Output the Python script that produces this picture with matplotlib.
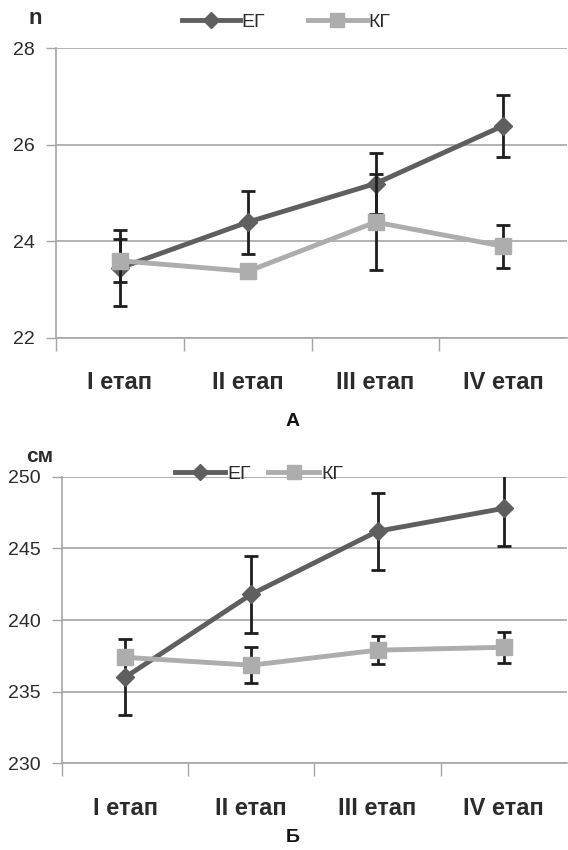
import matplotlib.pyplot as plt
from matplotlib.lines import Line2D

plt.rcParams['font.family'] = ['Liberation Sans Narrow', 'Liberation Sans', 'DejaVu Sans']

stages = ['I етап', 'II етап', 'III етап', 'IV етап']

# chart A (n)
eg_a = [23.45, 24.4, 25.2, 26.4]
eg_a_err = [0.78, 0.65, 0.63, 0.64]
kg_a = [23.6, 23.38, 24.4, 23.9]
kg_a_err = [0.45, 0.08, 1.0, 0.45]

# chart B (cm)
eg_b = [236.0, 241.8, 246.2, 247.8]
eg_b_err = [2.65, 2.68, 2.7, 2.6]
kg_b = [237.4, 236.85, 237.9, 238.1]
kg_b_err = [0.4, 1.24, 1.0, 1.1]

EG_COLOR = '#5f5f5f'
KG_COLOR = '#adadad'
GRID = '#a6a6a6'
TXT = '#2b2b2b'


def draw(ax, eg, eg_err, kg, kg_err, ylim, yticks, legend_x, legend_y, hlen, cspace):
    x = list(range(len(stages)))
    ax.errorbar(x, eg, yerr=eg_err, fmt='none', ecolor='#1e1e1e', elinewidth=2,
                capsize=5, capthick=2, zorder=3)
    ax.plot(x, eg, color=EG_COLOR, lw=3.5, marker='D', ms=9, zorder=3.5)
    ax.errorbar(x, kg, yerr=kg_err, fmt='none', ecolor='#1e1e1e', elinewidth=2,
                capsize=5, capthick=2, zorder=4)
    ax.plot(x, kg, color=KG_COLOR, lw=3.5, marker='s', ms=12, zorder=4.5)

    ax.set_xlim(-0.5, 3.5)
    ax.set_ylim(*ylim)
    ax.set_yticks(yticks)
    ax.set_xticks(x)
    ax.set_xticks([-0.5, 0.5, 1.5, 2.5], minor=True)
    ax.set_xticklabels(stages, fontsize=17, fontweight='bold', color=TXT)
    ax.tick_params(axis='x', which='major', length=0, pad=24)
    ax.tick_params(axis='x', which='minor', length=9, width=1, color=GRID, direction='out')
    ax.tick_params(axis='y', length=7, width=1, color=GRID, labelsize=14,
                   labelcolor=TXT, pad=8)
    ax.yaxis.grid(True, color=GRID, lw=1.2)
    ax.set_axisbelow(True)
    for s in ['top', 'right']:
        ax.spines[s].set_visible(False)
    ax.spines['left'].set_color(GRID)
    ax.spines['bottom'].set_color(GRID)
    ax.spines['left'].set_linewidth(1.2)
    ax.spines['bottom'].set_linewidth(1.2)

    handles = [
        Line2D([], [], color=EG_COLOR, lw=3.5, marker='D', ms=8),
        Line2D([], [], color=KG_COLOR, lw=3.5, marker='s', ms=10),
    ]
    ax.legend(handles, ['ЕГ', 'КГ'], loc='center', bbox_to_anchor=(legend_x, legend_y),
              ncol=2, frameon=False, fontsize=14, handlelength=hlen,
              handletextpad=0.1, columnspacing=cspace, labelcolor=TXT)


fig = plt.figure(figsize=(5.68, 8.5), dpi=100)
ax1 = fig.add_axes([0.0986, 0.6024, 0.9, 0.3406])
ax2 = fig.add_axes([0.109, 0.102, 0.889, 0.337])

draw(ax1, eg_a, eg_a_err, kg_a, kg_a_err, (22, 28), [22, 24, 26, 28], 0.45, 1.09, 3.0, 2.2)
draw(ax2, eg_b, eg_b_err, kg_b, kg_b_err, (230, 250), [230, 235, 240, 245, 250], 0.39, 1.01, 2.6, 0.9)

fig.text(35 / 568, 1 - 18 / 850, 'n', fontsize=16, fontweight='bold', color=TXT,
         ha='center', va='center')
fig.text(40 / 568, 1 - 456 / 850, 'см', fontsize=15, fontweight='bold', color=TXT,
         ha='center', va='center')
fig.text(293 / 568, 1 - 422 / 850, 'А', fontsize=14, fontweight='bold', color='#111111',
         ha='center', va='center')
fig.text(293 / 568, 1 - 838 / 850, 'Б', fontsize=14, fontweight='bold', color='#111111',
         ha='center', va='center')

fig.savefig('out.png', dpi=100)
